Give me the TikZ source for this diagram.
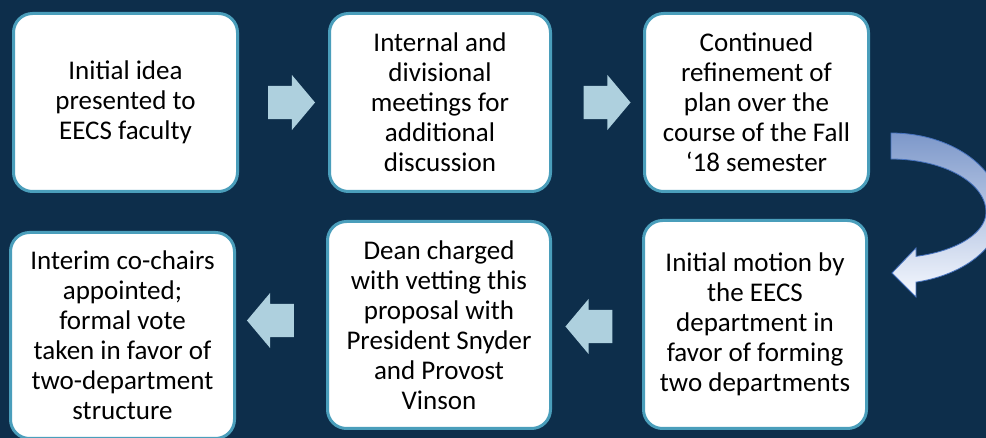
\documentclass[tikz,border=0pt]{standalone}
\usepackage{fontspec}
\setmainfont{Carlito}
\usetikzlibrary{shapes.arrows}
\definecolor{bgnavy}{RGB}{13,46,75}
\definecolor{boxedge}{RGB}{74,158,187}
\definecolor{arrowfill}{RGB}{174,208,222}
\definecolor{curvetop}{RGB}{125,152,202}
\definecolor{curvebot}{RGB}{246,249,255}
\definecolor{curveedge}{RGB}{70,114,190}
\begin{document}
\begin{tikzpicture}[x=1pt,y=-1pt,
  stepbox/.style={draw=boxedge, line width=3pt, fill=white, rounded corners=19pt,
    align=center, font=\fontsize{27}{30}\selectfont, inner sep=0pt, outer sep=0pt,
    minimum width=224pt},
  toprow/.style={minimum height=178pt},
  blockarrow/.style={single arrow, fill=arrowfill, draw=none, inner xsep=0pt,
    inner ysep=16.5pt, single arrow head extend=11pt, single arrow tip angle=100,
    minimum height=47pt, outer sep=0pt},
  leftarrow/.style={blockarrow, shape border rotate=180}
]
\fill[bgnavy] (0,0) rectangle (986,438);
\useasboundingbox (0,0) rectangle (986,438);

\node[stepbox, toprow] (b1) at (125.5,102.5) {Initial idea\\presented to\\EECS faculty};
\node[stepbox, toprow, minimum width=221pt] (b2) at (440,102.5) {Internal and\\divisional\\meetings for\\additional\\discussion};
\node[stepbox, toprow] (b3) at (756.5,102.5) {Continued\\refinement of\\plan over the\\course of the Fall\\‘18 semester};
\node[stepbox, minimum width=223pt, minimum height=208pt] (b4) at (755,324.5) {Initial motion by\\the EECS\\department in\\favor of forming\\two departments};
\node[stepbox, minimum width=223pt, minimum height=207pt] (b5) at (439,325) {Dean charged\\with vetting this\\proposal with\\President Snyder\\and Provost\\Vinson};
\node[stepbox, minimum height=206pt] (b6) at (122.5,335.5) {Interim co-chairs\\appointed;\\formal vote\\taken in favor of\\two-department\\structure};

\node[blockarrow] (a12) at (284.5,102.5) {};
\node[blockarrow] (a23) at (600,102.5) {};
\node[leftarrow] (a45) at (596,326.5) {};
\node[leftarrow] (a56) at (277.5,320.5) {};

\begin{scope}
\clip (0,0) rectangle (986,438);
\path[draw=curveedge, line width=0.8pt, top color=curvetop, bottom color=curvebot]
  (891,133)
  -- plot[domain=-90:0, variable=\t, samples=40] ({891+110*cos(\t)},{212+79*sin(\t)})
  -- plot[domain=0:76.9, variable=\t, samples=40] ({891+110*cos(\t)},{212+72*sin(\t)})
  -- (916,297) -- (892,273) -- (916,248)
  -- plot[domain=74.7:0, variable=\t, samples=40] ({891+95*cos(\t)},{212+46*sin(\t)})
  -- plot[domain=0:-90, variable=\t, samples=40] ({891+95*cos(\t)},{212+53*sin(\t)})
  -- cycle;
\end{scope}
\end{tikzpicture}
\end{document}
